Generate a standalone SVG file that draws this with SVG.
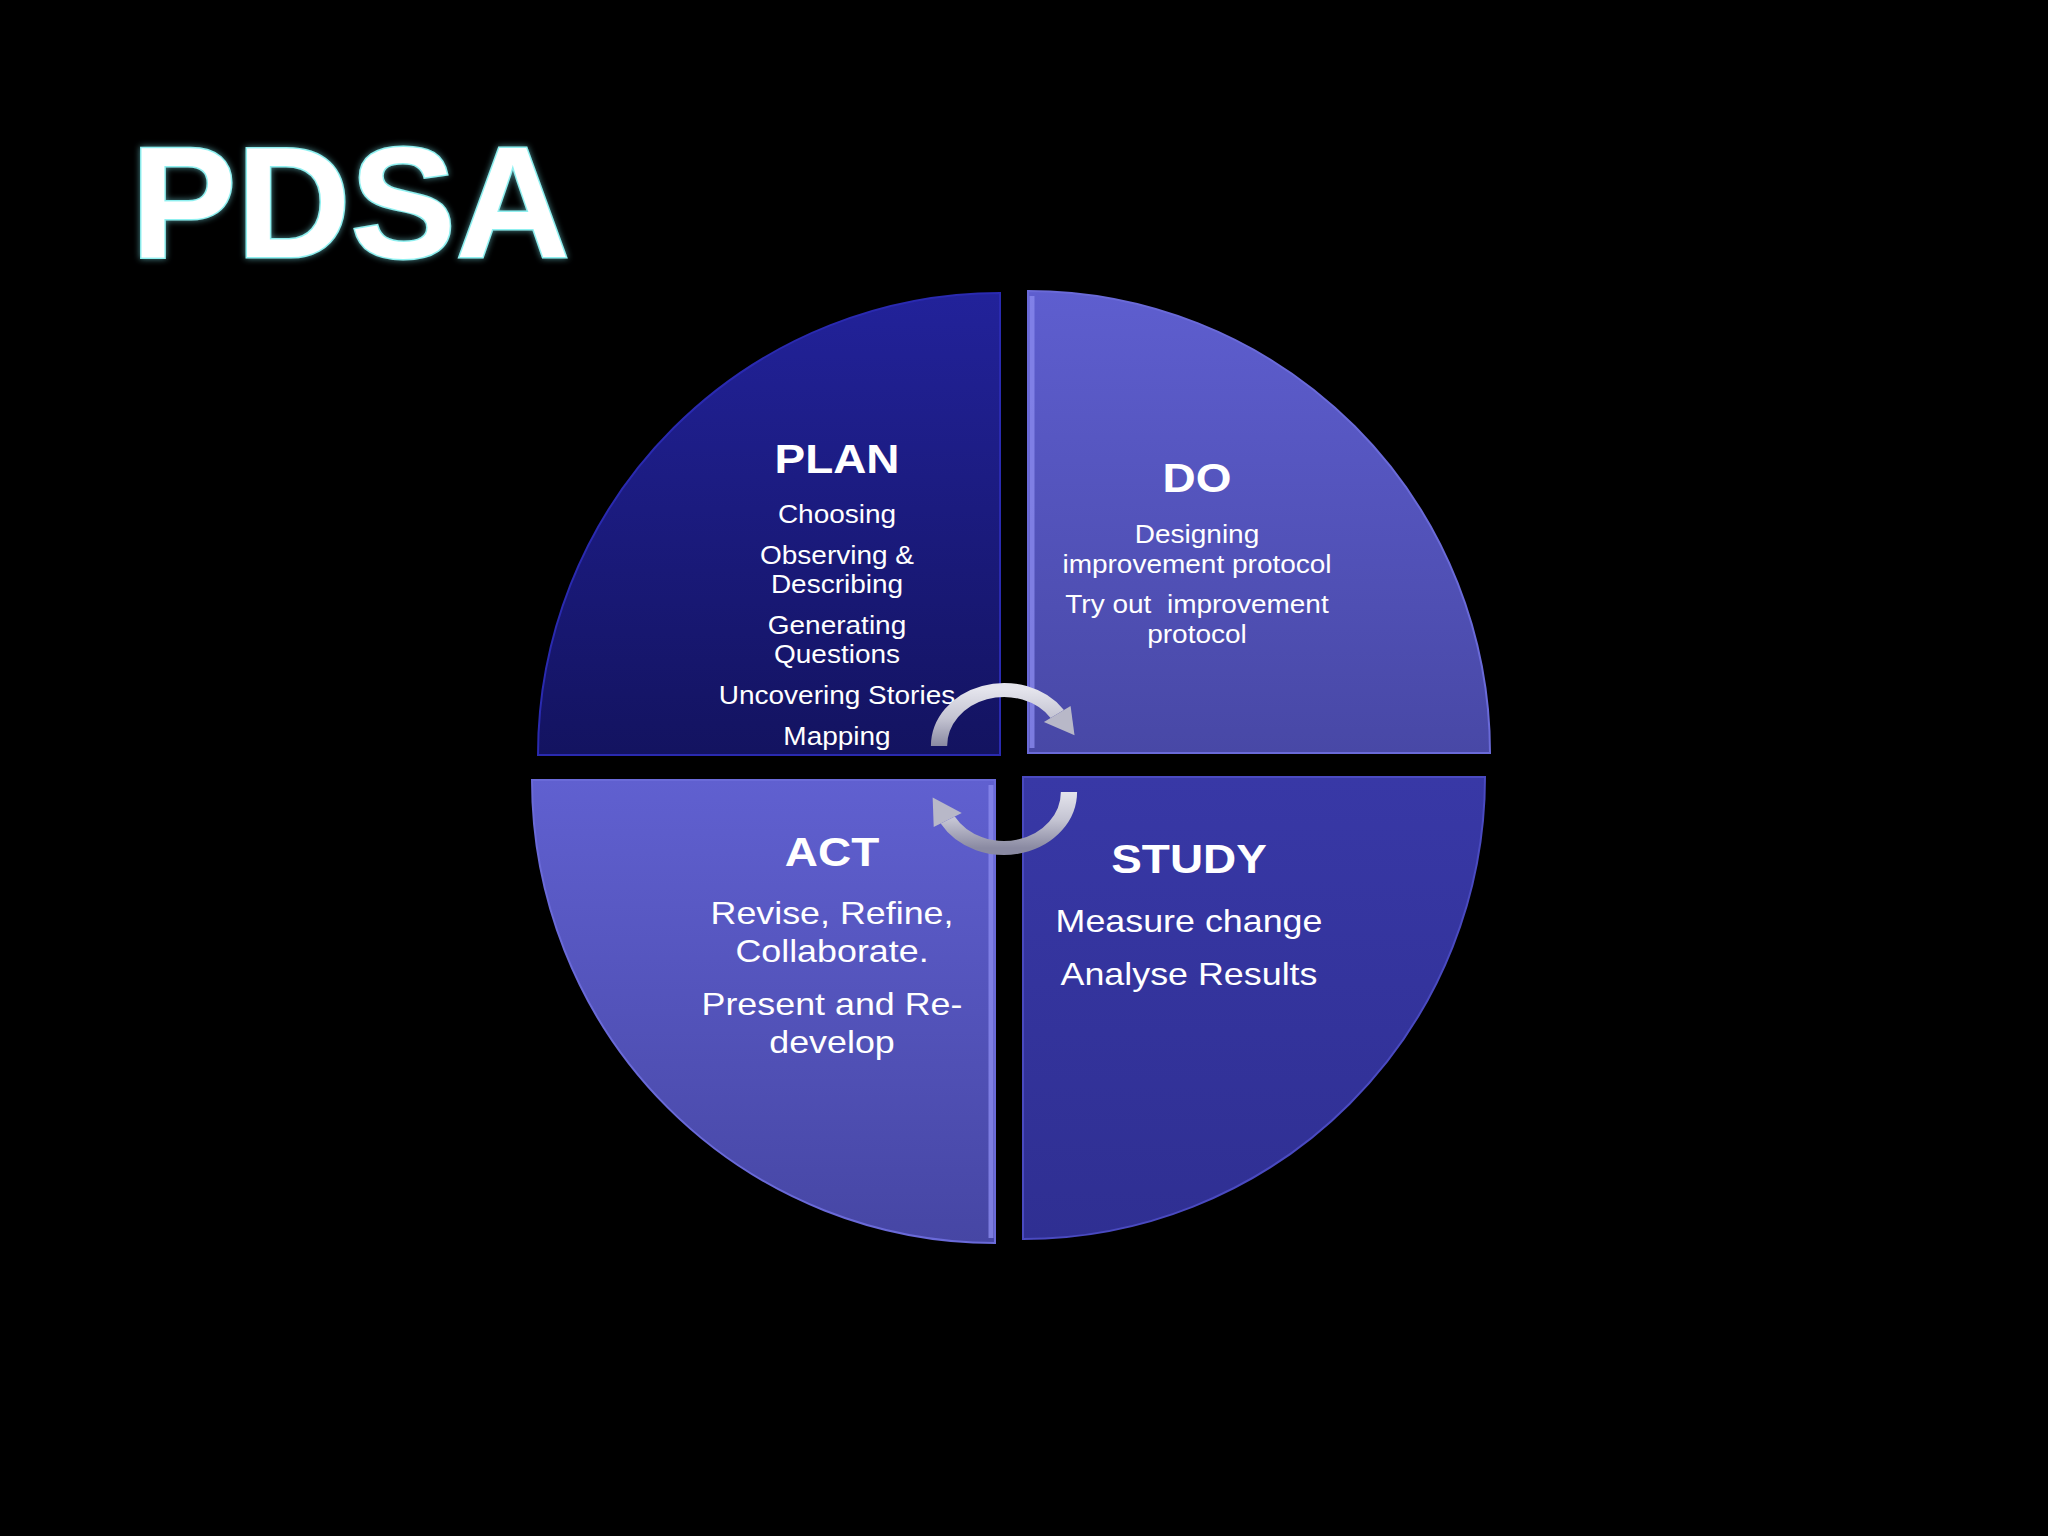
<svg xmlns="http://www.w3.org/2000/svg" width="2048" height="1536" viewBox="0 0 2048 1536">
<defs>
<linearGradient id="gPlan" x1="0" y1="0" x2="0" y2="1"><stop offset="0" stop-color="#22229a"/><stop offset="1" stop-color="#131360"/></linearGradient>
<linearGradient id="gDo" x1="0" y1="0" x2="0" y2="1"><stop offset="0" stop-color="#5e5ecf"/><stop offset="1" stop-color="#4848a6"/></linearGradient>
<linearGradient id="gAct" x1="0" y1="0" x2="0" y2="1"><stop offset="0" stop-color="#6060d0"/><stop offset="1" stop-color="#4646a4"/></linearGradient>
<linearGradient id="gStudy" x1="0" y1="0" x2="0" y2="1"><stop offset="0" stop-color="#3838a6"/><stop offset="1" stop-color="#2f2f92"/></linearGradient>
<linearGradient id="gArrow" x1="0" y1="0" x2="0" y2="1"><stop offset="0" stop-color="#e4e4ec"/><stop offset="0.5" stop-color="#c4c4d2"/><stop offset="1" stop-color="#8a8aa2"/></linearGradient>
<filter id="soft" x="-5%" y="-5%" width="110%" height="110%"><feGaussianBlur stdDeviation="1.2"/></filter>
<filter id="glow" x="-10%" y="-10%" width="120%" height="120%"><feGaussianBlur in="SourceAlpha" stdDeviation="3" result="b"/><feFlood flood-color="#7fe8f0" flood-opacity="0.6"/><feComposite in2="b" operator="in" result="g"/><feMerge><feMergeNode in="g"/><feMergeNode in="SourceGraphic"/></feMerge></filter>
</defs>
<style>
.head{font-family:"Liberation Sans",Arial,sans-serif;font-weight:bold;font-size:41px;fill:#ffffff;text-anchor:middle}
.s25{font-family:"Liberation Sans",Arial,sans-serif;font-size:25px;fill:#ffffff;text-anchor:middle}
.s32{font-family:"Liberation Sans",Arial,sans-serif;font-size:32px;fill:#ffffff;text-anchor:middle}
.edge{fill:none;stroke:#8a8aee;stroke-width:5;opacity:0.8}
.arc{fill:none;stroke:url(#gArrow);stroke-width:14}
.head-arrow{fill:#b8b8c8}
</style>
<rect width="2048" height="1536" fill="#000000"/>

<g id="title" filter="url(#glow)">
<text x="131" y="257" font-family="'Liberation Sans',Arial,sans-serif" font-weight="bold" font-size="158" fill="#ffffff" stroke="#8ff0f0" stroke-width="3" paint-order="stroke">PDSA</text>
</g>

<g id="plan">
<path d="M1000 755 L538 755 A462 462 0 0 1 1000 293 Z" fill="url(#gPlan)" stroke="#2a2ab0" stroke-width="2"/>
<g transform="translate(837,0) scale(1.12,1)">
<text class="head" x="0" y="473">PLAN</text>
<text class="s25" x="0" y="523">Choosing</text>
<text class="s25" x="0" y="564">Observing &amp;</text>
<text class="s25" x="0" y="593">Describing</text>
<text class="s25" x="0" y="634">Generating</text>
<text class="s25" x="0" y="663">Questions</text>
<text class="s25" x="0" y="704">Uncovering Stories</text>
<text class="s25" x="0" y="745">Mapping</text>
</g>
</g>

<g id="do">
<path d="M1028 753 L1028 291 A462 462 0 0 1 1490 753 Z" fill="url(#gDo)" stroke="#6a6ad8" stroke-width="2"/>
<line class="edge" x1="1032" y1="296" x2="1032" y2="748"/>
<g transform="translate(1197,0) scale(1.12,1)">
<text class="head" x="0" y="492">DO</text>
<text class="s25" x="0" y="543">Designing</text>
<text class="s25" x="0" y="573">improvement protocol</text>
<text class="s25" x="0" y="613" xml:space="preserve">Try out  improvement</text>
<text class="s25" x="0" y="643">protocol</text>
</g>
</g>

<g id="act">
<path d="M995 780 L532 780 A463 463 0 0 0 995 1243 Z" fill="url(#gAct)" stroke="#6a6ad8" stroke-width="2"/>
<line class="edge" x1="991" y1="785" x2="991" y2="1238"/>
<g transform="translate(832,0) scale(1.12,1)">
<text class="head" x="0" y="866">ACT</text>
<text class="s32" x="0" y="924">Revise, Refine,</text>
<text class="s32" x="0" y="962">Collaborate.</text>
<text class="s32" x="0" y="1015">Present and Re-</text>
<text class="s32" x="0" y="1053">develop</text>
</g>
</g>

<g id="study">
<path d="M1023 777 L1485 777 A462 462 0 0 1 1023 1239 Z" fill="url(#gStudy)" stroke="#4a4ac0" stroke-width="2"/>
<g transform="translate(1189,0) scale(1.12,1)">
<text class="head" x="0" y="873">STUDY</text>
<text class="s32" x="0" y="932">Measure change</text>
<text class="s32" x="0" y="985">Analyse Results</text>
</g>
</g>

<g id="connectors">
<g transform="translate(1004,746) scale(1.16,1)">
<path class="arc" d="M-56 0 A56 56 0 0 1 45.9 -32.1"/>
<polygon class="head-arrow" points="60.8,-10.8 57.4,-40.1 34.4,-24.1"/>
</g>
<g transform="translate(1004,792) scale(1.16,1)">
<path class="arc" d="M56 0 A56 56 0 0 1 -48.5 28"/>
<polygon class="head-arrow" points="-61.5,5.5 -36.4,21 -60.6,35"/>
</g>
</g>
</svg>
